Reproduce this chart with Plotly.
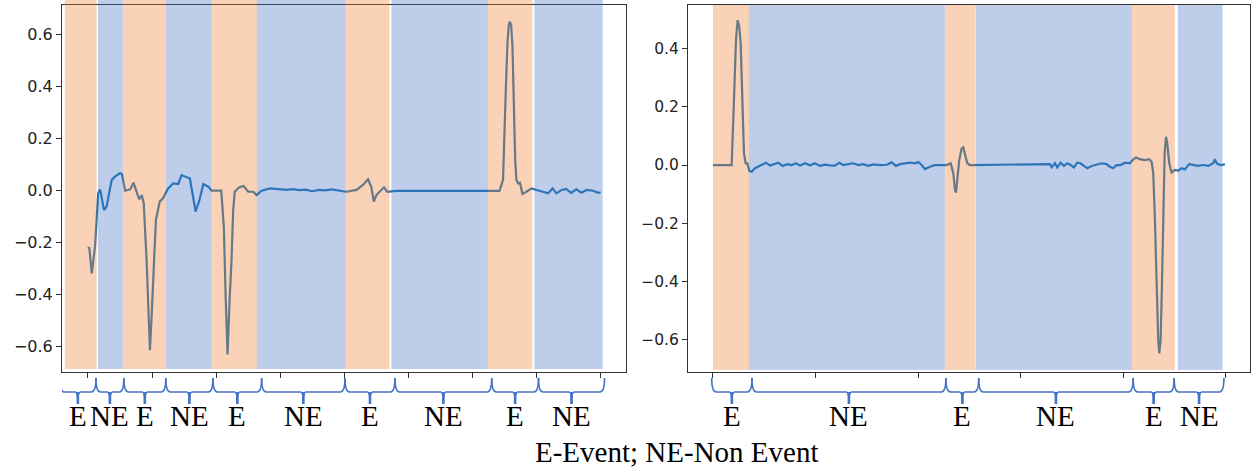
import plotly.graph_objects as go

W, H = 1251, 472

# ---------------- data ----------------
left_x = [0, 2, 6, 11, 16, 19, 25, 29, 37, 42, 50, 53, 58, 66, 71, 76, 80, 84, 87,
          91.5, 94, 96.7, 99.3, 102, 106, 112, 117, 125, 133, 141, 146, 154, 159, 164,
          168, 174, 180, 188, 193, 208, 212, 214.7, 217.8, 221, 224, 226.6, 229, 236,
          243, 250, 258, 263, 271, 284, 299, 310, 320, 330, 340, 350, 360, 370, 380,
          390, 403, 419, 429, 437, 442, 446, 450, 455, 462, 467, 481, 520, 560, 600,
          642, 647.6, 649.8, 651.8, 654.5, 656.6, 658.2, 660.3, 662.4, 664.5, 666.6,
          668.5, 671, 674, 678, 684, 692, 700, 710, 718, 725, 731, 739, 746, 754, 762,
          770, 778, 788, 796, 800]
left_y = [-0.222, -0.218, -0.318, -0.215, -0.010, 0.005, -0.074, -0.062, 0.041, 0.054,
          0.067, 0.064, 0.000, 0.005, 0.031, -0.010, -0.033, -0.017, -0.048,
          -0.267, -0.459, -0.613, -0.485, -0.356, -0.113, -0.042, -0.029, 0.009, 0.028,
          0.026, 0.060, 0.052, 0.048, -0.023, -0.081, -0.036, 0.026, 0.015, 0.000,
          0.000, -0.138, -0.395, -0.630, -0.420, -0.267, -0.074, -0.004, 0.013, 0.018,
          -0.004, -0.004, -0.017, 0.000, 0.009, 0.005, 0.003, 0.006, 0.002, 0.004,
          -0.002, 0.003, 0.001, 0.005, 0.000, -0.004, 0.003, 0.022, 0.044, 0.015,
          -0.042, -0.017, -0.004, 0.013, -0.004, -0.001, -0.001, -0.001, -0.001,
          -0.001, 0.041, 0.182, 0.375, 0.567, 0.637, 0.650, 0.637, 0.554, 0.310, 0.118,
          0.041, 0.028, 0.031, -0.013, -0.004, 0.009, 0.003, -0.004, -0.010, 0.009,
          -0.010, 0.003, 0.007, -0.008, 0.005, -0.008, 0.003, 0.000, -0.008, -0.006]

right_x = [0, 36.4, 40.9, 44.8, 48.1, 51.3, 54, 57.1, 60.4, 63.7, 66.9, 70.8, 75.4,
           81.9, 88.3, 94.9, 103.3, 111.1, 120.8, 127.3, 135.8, 144.8, 153.4, 161.8,
           169.6, 179.3, 189.1, 198.8, 208.5, 218.3, 228, 237.8, 246.2, 254, 263.7,
           273.4, 283.2, 292.9, 302.7, 312.4, 325.5, 338.5, 348.3, 356.7, 364.5, 374.2,
           384, 393.7, 400.1, 406.8, 413.2, 423, 432.7, 442.4, 455.4, 463.3, 468.4,
           471.7, 473.6, 476.2, 480, 484.7, 487.8, 491.7, 495.7, 500.9, 560, 656.8,
           660.1, 666.6, 671.1, 677.7, 684.2, 690.6, 697.2, 703.6, 710.1, 716.7, 723.1,
           729.6, 738.2, 747.8, 757.6, 767.3, 773.8, 780.2, 786.8, 794.6, 803, 812.7,
           818, 824.4, 832.2, 842, 850.3, 855, 858.2, 861.5, 864.8, 867.9, 869.9, 872.6,
           875.1, 877.7, 880.4, 883, 885.5, 889.4, 894, 900.4, 906.9, 913.5, 919.9,
           928.3, 936.1, 945.9, 955.6, 965.4, 975.1, 978.4, 981.7, 988.1, 997.9]
right_y = [0.000, 0.000, 0.223, 0.429, 0.497, 0.474, 0.417, 0.223, 0.040, 0.006, 0.006,
           -0.020, -0.023, -0.011, -0.006, 0.000, 0.008, -0.002, 0.003, 0.008, -0.003,
           0.003, 0.000, 0.006, -0.002, 0.006, -0.001, 0.006, -0.003, 0.001, -0.001,
           -0.002, 0.008, 0.000, 0.003, 0.006, 0.000, 0.003, -0.003, 0.002, 0.000,
           0.001, 0.009, -0.003, 0.003, 0.006, 0.008, 0.006, 0.010, 0.000, -0.014,
           -0.006, 0.000, 0.000, 0.000, 0.006, -0.028, -0.086, -0.095, -0.051, 0.017,
           0.057, 0.061, 0.034, 0.006, 0.000, 0.001, 0.003, -0.008, 0.006, -0.008,
           0.008, -0.003, 0.006, 0.000, -0.008, 0.008, 0.006, -0.003, -0.011, -0.003,
           0.002, 0.006, 0.003, -0.006, -0.011, 0.000, 0.000, 0.008, 0.006, 0.017,
           0.026, 0.020, 0.017, 0.020, 0.011, -0.028, -0.189, -0.417, -0.600, -0.646,
           -0.600, -0.417, -0.189, 0.040, 0.097, 0.074, 0.006, -0.026, -0.017, -0.019,
           -0.011, -0.015, 0.003, 0.000, -0.003, 0.000, -0.003, 0.006, 0.020, 0.006,
           0.000, 0.002]

left_band_start = [-36, 15.5, 54.5, 121.5, 193, 263.5, 402, 473.5, 624, 696.5]
left_band_end = [13.5, 54.5, 121.5, 193, 263.5, 402, 470.5, 624, 693.5, 803]
left_band_kind = ["E", "NE", "E", "NE", "E", "NE", "E", "NE", "E", "NE"]

right_band_start = [0, 70, 452, 512.6, 816.6, 906]
right_band_end = [70, 452, 512, 816.6, 900.4, 993.4]
right_band_kind = ["E", "NE", "E", "NE", "E", "NE"]

left_brace_edges = [-44, 12.5, 56, 121.5, 195, 271, 401, 479, 630, 703, 806]
left_brace_labels = ["E", "NE", "E", "NE", "E", "NE", "E", "NE", "E", "NE"]
right_brace_edges = [-2.5, 76, 454, 518, 819, 899, 996]
right_brace_labels = ["E", "NE", "E", "NE", "E", "NE"]

left_xticks = [0, 100, 200, 300, 400, 500, 600, 700, 800]
right_xticks = [0, 200, 400, 600, 800, 1000]
left_yticks = [-0.6, -0.4, -0.2, 0.0, 0.2, 0.4, 0.6]
right_yticks = [-0.6, -0.4, -0.2, 0.0, 0.2, 0.4]
caption = "E-Event; NE-Non Event"

# ---------------- styling / layout ----------------
BAND_COLORS = {"E": "rgba(237,125,49,0.35)", "NE": "rgba(68,114,196,0.35)"}
BRACE_COLOR = "#4472C4"
SERIF = "Liberation Serif, Times New Roman, serif"

L_DOM = [62 / W, 626 / W]
R_DOM = [688 / W, 1250 / W]
Y_DOM = [1 - 372 / H, 1 - 5 / H]
L_RANGE = [-40.5, 839.5]
R_RANGE = [-48.7, 1046.8]


def py(pix):
    return 1 - pix / H


fig = go.Figure()
fig.add_trace(go.Scatter(x=left_x, y=left_y, mode="lines", xaxis="x", yaxis="y",
                         line=dict(color="#1f77b4", width=2.2), showlegend=False,
                         hoverinfo="skip"))
fig.add_trace(go.Scatter(x=right_x, y=right_y, mode="lines", xaxis="x2", yaxis="y2",
                         line=dict(color="#1f77b4", width=2.2), showlegend=False,
                         hoverinfo="skip"))

shapes = []
for s, e, k in zip(left_band_start, left_band_end, left_band_kind):
    shapes.append(dict(type="rect", xref="x", yref="paper", x0=s, x1=e,
                       y0=py(369), y1=py(0), fillcolor=BAND_COLORS[k],
                       line=dict(width=0), layer="above"))
for s, e, k in zip(right_band_start, right_band_end, right_band_kind):
    shapes.append(dict(type="rect", xref="x2", yref="paper", x0=s, x1=e,
                       y0=py(370), y1=py(5), fillcolor=BAND_COLORS[k],
                       line=dict(width=0), layer="above"))


def brace_shapes(edges, xref, rng, dom):
    scale = (dom[1] - dom[0]) * W / (rng[1] - rng[0])  # px per unit
    r = 4.5 / scale
    r2 = 2.5 / scale
    yt, yl, ys = py(378), py(392), py(404)
    out = []
    for a, b in zip(edges[:-1], edges[1:]):
        m = (a + b) / 2
        path = (f"M {a},{yt} Q {a},{yl} {a + r},{yl} L {m - r2},{yl} "
                f"Q {m},{yl} {m},{ys} Q {m},{yl} {m + r2},{yl} "
                f"L {b - r},{yl} Q {b},{yl} {b},{yt}")
        out.append(dict(type="path", xref=xref, yref="paper", path=path,
                        line=dict(color=BRACE_COLOR, width=1.6), layer="above"))
        out.append(dict(type="line", xref=xref, yref="paper", x0=m, x1=m,
                        y0=yl, y1=ys, line=dict(color=BRACE_COLOR, width=2.6),
                        layer="above"))
    return out


shapes += brace_shapes(left_brace_edges, "x", L_RANGE, L_DOM)
shapes += brace_shapes(right_brace_edges, "x2", R_RANGE, R_DOM)

annotations = []
for (a, b), lab in zip(zip(left_brace_edges[:-1], left_brace_edges[1:]), left_brace_labels):
    annotations.append(dict(x=(a + b) / 2, y=py(416), xref="x", yref="paper",
                            text=lab, showarrow=False, yanchor="middle",
                            font=dict(family=SERIF, size=29, color="black")))
for (a, b), lab in zip(zip(right_brace_edges[:-1], right_brace_edges[1:]), right_brace_labels):
    annotations.append(dict(x=(a + b) / 2, y=py(416), xref="x2", yref="paper",
                            text=lab, showarrow=False, yanchor="middle",
                            font=dict(family=SERIF, size=29, color="black")))
annotations.append(dict(x=676.5 / W, y=py(452), xref="paper", yref="paper",
                        text=caption, showarrow=False, yanchor="middle",
                        font=dict(family=SERIF, size=29, color="black")))

axis_common = dict(showline=True, linecolor="#333333", linewidth=1, mirror=True,
                   ticks="outside", ticklen=5, tickwidth=1, tickcolor="#333333",
                   showgrid=False, zeroline=False, automargin=False)

fig.update_layout(
    template="none",
    width=W, height=H, margin=dict(l=0, r=0, t=0, b=0, pad=0, autoexpand=False),
    paper_bgcolor="white", plot_bgcolor="white",
    xaxis=dict(domain=L_DOM, range=L_RANGE, tickvals=left_xticks,
               showticklabels=False, anchor="y", **axis_common),
    yaxis=dict(domain=Y_DOM, range=[-0.697, 0.714], tickvals=left_yticks,
               tickformat=".1f", anchor="x",
               tickfont=dict(family="DejaVu Sans", size=16, color="#222222"),
               **axis_common),
    xaxis2=dict(domain=R_DOM, range=R_RANGE, tickvals=right_xticks,
                showticklabels=False, anchor="y2", **axis_common),
    yaxis2=dict(domain=Y_DOM, range=[-0.710, 0.549], tickvals=right_yticks,
                tickformat=".1f", anchor="x2",
                tickfont=dict(family="DejaVu Sans", size=15.5, color="#222222"),
                **axis_common),
    shapes=shapes, annotations=annotations,
)

fig.write_html(
    "out.html",
    config={"displayModeBar": False},
    post_script=("document.documentElement.style.margin='0';"
                 "document.body.style.margin='0';"
                 "document.body.style.overflow='hidden';"),
)
